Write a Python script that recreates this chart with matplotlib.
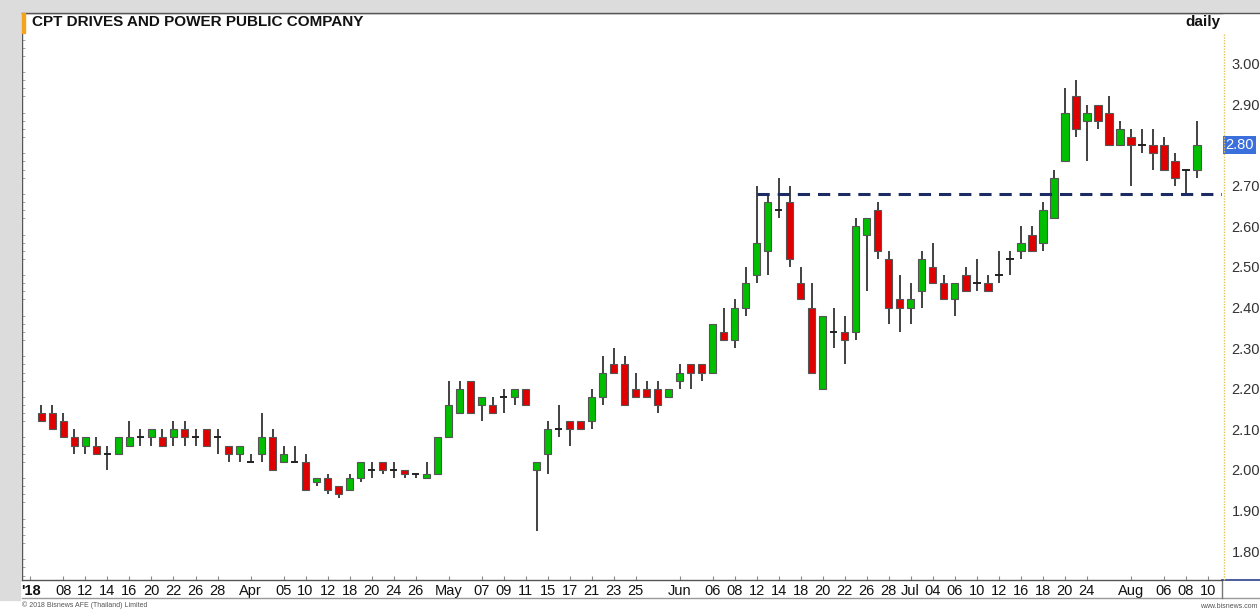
import numpy as np
import matplotlib.pyplot as plt
from matplotlib.patches import Rectangle
from matplotlib.lines import Line2D
from matplotlib.ticker import MultipleLocator
import matplotlib.transforms as mtransforms

plt.rcParams['font.family'] = ['Liberation Sans', 'DejaVu Sans']

# daily OHLC, 6 Mar - 9 Aug 2018 (one entry per trading day)
opens = [2.14, 2.14, 2.12, 2.08, 2.06, 2.06, 2.04, 2.04, 2.06, 2.08,
         2.08, 2.08, 2.08, 2.10, 2.08, 2.10, 2.08, 2.06, 2.04, 2.02,
         2.04, 2.08, 2.02, 2.02, 2.02, 1.97, 1.98, 1.96, 1.95, 1.98,
         2.00, 2.02, 2.00, 2.00, 1.99, 1.98, 1.99, 2.08, 2.14, 2.22,
         2.16, 2.16, 2.18, 2.18, 2.20, 2.00, 2.04, 2.10, 2.12, 2.12,
         2.12, 2.18, 2.26, 2.26, 2.20, 2.20, 2.20, 2.18, 2.22, 2.26,
         2.26, 2.24, 2.34, 2.32, 2.40, 2.48, 2.54, 2.64, 2.66, 2.46,
         2.40, 2.20, 2.34, 2.34, 2.34, 2.58, 2.64, 2.52, 2.42, 2.40,
         2.44, 2.50, 2.46, 2.42, 2.48, 2.46, 2.46, 2.48, 2.52, 2.54,
         2.58, 2.56, 2.62, 2.76, 2.92, 2.86, 2.90, 2.88, 2.80, 2.82,
         2.80, 2.80, 2.80, 2.76, 2.74, 2.74]
highs = [2.16, 2.16, 2.14, 2.10, 2.08, 2.08, 2.06, 2.08, 2.12, 2.10,
         2.10, 2.10, 2.12, 2.12, 2.10, 2.10, 2.10, 2.06, 2.06, 2.04,
         2.14, 2.10, 2.06, 2.06, 2.04, 1.98, 1.99, 1.96, 1.99, 2.02,
         2.02, 2.02, 2.02, 2.00, 1.99, 2.02, 2.08, 2.22, 2.22, 2.22,
         2.18, 2.18, 2.20, 2.20, 2.20, 2.02, 2.12, 2.16, 2.12, 2.12,
         2.20, 2.28, 2.30, 2.28, 2.24, 2.22, 2.22, 2.20, 2.26, 2.26,
         2.26, 2.36, 2.40, 2.42, 2.50, 2.70, 2.68, 2.72, 2.70, 2.50,
         2.46, 2.38, 2.40, 2.38, 2.62, 2.62, 2.66, 2.54, 2.48, 2.46,
         2.54, 2.56, 2.48, 2.46, 2.50, 2.52, 2.48, 2.54, 2.54, 2.60,
         2.60, 2.66, 2.74, 2.94, 2.96, 2.90, 2.90, 2.92, 2.86, 2.84,
         2.84, 2.84, 2.82, 2.78, 2.74, 2.86]
lows = [2.12, 2.10, 2.08, 2.04, 2.04, 2.04, 2.00, 2.04, 2.06, 2.06,
        2.06, 2.06, 2.06, 2.06, 2.06, 2.06, 2.04, 2.02, 2.02, 2.02,
        2.02, 2.00, 2.02, 2.02, 1.95, 1.96, 1.94, 1.93, 1.95, 1.97,
        1.98, 1.99, 1.98, 1.98, 1.98, 1.98, 1.99, 2.08, 2.14, 2.14,
        2.12, 2.14, 2.14, 2.16, 2.16, 1.85, 1.99, 2.08, 2.06, 2.10,
        2.10, 2.16, 2.24, 2.16, 2.18, 2.18, 2.14, 2.18, 2.20, 2.20,
        2.22, 2.24, 2.32, 2.30, 2.38, 2.46, 2.48, 2.62, 2.50, 2.42,
        2.24, 2.20, 2.30, 2.26, 2.32, 2.44, 2.52, 2.36, 2.34, 2.36,
        2.40, 2.46, 2.42, 2.38, 2.44, 2.44, 2.44, 2.46, 2.48, 2.52,
        2.54, 2.54, 2.62, 2.76, 2.82, 2.76, 2.84, 2.80, 2.80, 2.70,
        2.78, 2.74, 2.74, 2.70, 2.68, 2.72]
closes = [2.12, 2.10, 2.08, 2.06, 2.08, 2.04, 2.04, 2.08, 2.08, 2.08,
          2.10, 2.06, 2.10, 2.08, 2.08, 2.06, 2.08, 2.04, 2.06, 2.02,
          2.08, 2.00, 2.04, 2.02, 1.95, 1.98, 1.95, 1.94, 1.98, 2.02,
          2.00, 2.00, 2.00, 1.99, 1.99, 1.99, 2.08, 2.16, 2.20, 2.14,
          2.18, 2.14, 2.18, 2.20, 2.16, 2.02, 2.10, 2.10, 2.10, 2.10,
          2.18, 2.24, 2.24, 2.16, 2.18, 2.18, 2.16, 2.20, 2.24, 2.24,
          2.24, 2.36, 2.32, 2.40, 2.46, 2.56, 2.66, 2.64, 2.52, 2.42,
          2.24, 2.38, 2.34, 2.32, 2.60, 2.62, 2.54, 2.40, 2.40, 2.42,
          2.52, 2.46, 2.42, 2.46, 2.44, 2.46, 2.44, 2.48, 2.52, 2.56,
          2.54, 2.64, 2.72, 2.88, 2.84, 2.88, 2.86, 2.80, 2.84, 2.80,
          2.80, 2.78, 2.74, 2.72, 2.74, 2.80]

# date labels (position = trading-day index, 0 = 6 Mar)
tick_pos = [-1, 2, 4, 6, 8, 10, 12, 14, 16, 19, 22, 24, 26, 28, 30, 32, 34,
            37, 40, 42, 44, 46, 48, 50, 52, 54, 58, 61, 63, 65, 67, 69, 71,
            73, 75, 77, 79, 81, 83, 85, 87, 89, 91, 93, 95, 99, 102, 104, 106]
tick_labels = ["'18", '08', '12', '14', '16', '20', '22', '26', '28', 'Apr',
               '05', '10', '12', '18', '20', '24', '26', 'May', '07', '09',
               '11', '15', '17', '21', '23', '25', 'Jun', '06', '08', '12',
               '14', '18', '20', '22', '26', '28', 'Jul', '04', '06', '10',
               '12', '16', '18', '20', '24', 'Aug', '06', '08', '10']

support = 2.68
support_start = 65
last_price = 2.80

W, H = 1260, 612
fig = plt.figure(figsize=(W / 100, H / 100), dpi=100)
fig.patch.set_facecolor('white')

def fx(px):
    return px / W

def fy(py):
    return 1 - py / H

# grey page margins
fig.patches.append(Rectangle((0, fy(12)), 1, 12 / H, transform=fig.transFigure,
                             color='#dcdcdc', zorder=0))
fig.patches.append(Rectangle((0, fy(600)), fx(20), 588 / H, transform=fig.transFigure,
                             color='#dcdcdc', zorder=0))

ax = fig.add_axes([fx(22), fy(580), 1200 / W, 567 / H])
xmax = 107.3
ax.set_xlim(-1.77, xmax)
ax.set_ylim(1.729, 3.1256)

o = np.array(opens)
c = np.array(closes)
x = np.arange(len(opens))
up = c > o + 1e-9
down = c < o - 1e-9
flat = ~(up | down)

ax.vlines(x, lows, highs, color='#333333', lw=1.3, zorder=2)
ax.bar(x[up], (c - o)[up], bottom=o[up], width=0.7, color='#00bf00',
       edgecolor='#555555', lw=0.8, zorder=3)
ax.bar(x[down], (o - c)[down], bottom=c[down], width=0.7, color='#e00000',
       edgecolor='#555555', lw=0.8, zorder=3)
ax.hlines(o[flat], x[flat] - 0.35, x[flat] + 0.35, color='#222222', lw=1.4, zorder=3)

ax.hlines(support, support_start, xmax, colors='#1c2c63', lw=2.2,
          linestyles=(0, (4, 2.6)), zorder=4)

# axes styling
for side in ['left', 'top', 'bottom']:
    ax.spines[side].set_color('#555555')
    ax.spines[side].set_linewidth(1.0)
ax.spines['right'].set_visible(False)

ax.yaxis.tick_right()
yt = np.round(np.arange(1.8, 3.001, 0.1), 2)
ax.set_yticks(yt)
ax.set_yticklabels(['' if abs(v - last_price) < 1e-6 else f'{v:.2f}' for v in yt])
ax.tick_params(axis='y', which='major', length=0, pad=7, labelsize=10.5, labelcolor='#333333')
ax.yaxis.set_minor_locator(MultipleLocator(0.02))
ax.tick_params(axis='y', which='minor', left=True, right=False, direction='in',
               length=2, color='#999999')

ax.set_xticks(tick_pos)
ax.set_xticklabels(tick_labels)
ax.tick_params(axis='x', direction='in', length=3, color='#888888', labelsize=10.5,
               pad=3, labelcolor='#111111')
ax.get_xticklabels()[0].set_fontweight('bold')

# last price marker
trans = mtransforms.blended_transform_factory(ax.transAxes, ax.transData)
ax.text(1.0025, last_price, f'{last_price:.2f}', transform=trans, ha='left', va='center',
        color='white', fontsize=10.5, clip_on=False, zorder=6,
        bbox=dict(boxstyle='square,pad=0.15', fc='#3a6fdc', ec='none'))

# frame pieces outside the axes
lines = [
    ([fx(22), 1], [fy(12.5), fy(12.5)], '#555555', '-', 1.0),
    ([fx(22), 1], [fy(598), fy(598)], '#999999', '-', 1.0),
    ([fx(1222), fx(1222)], [fy(580), fy(598)], '#777777', '-', 1.0),
    ([fx(1222), 1], [fy(580), fy(580)], '#2b3f8f', '-', 1.2),
    ([fx(1224), fx(1224)], [fy(34), fy(580)], '#e2c25a', (0, (1, 1)), 1.0),
]
for xs, ys, col, ls, lw in lines:
    fig.lines.append(Line2D(xs, ys, transform=fig.transFigure, color=col,
                            linestyle=ls, lw=lw))

fig.patches.append(Rectangle((fx(22), fy(33)), fx(3), 20 / H, transform=fig.transFigure,
                             color='#f5a21c', zorder=5))

fig.text(fx(32), fy(22), 'CPT DRIVES AND POWER PUBLIC COMPANY', fontsize=11,
         fontweight='bold', va='center', ha='left', color='#111111')
fig.text(fx(1220), fy(22), 'daily', fontsize=11, fontweight='bold', va='center',
         ha='right', color='#111111')
fig.text(fx(22), fy(605), '\u00a9 2018 Bisnews AFE (Thailand) Limited', fontsize=5,
         va='center', ha='left', color='#555555')
fig.text(fx(1258), fy(606), 'www.bisnews.com', fontsize=5, va='center', ha='right',
         color='#555555')

fig.savefig('out.png', dpi=100)
